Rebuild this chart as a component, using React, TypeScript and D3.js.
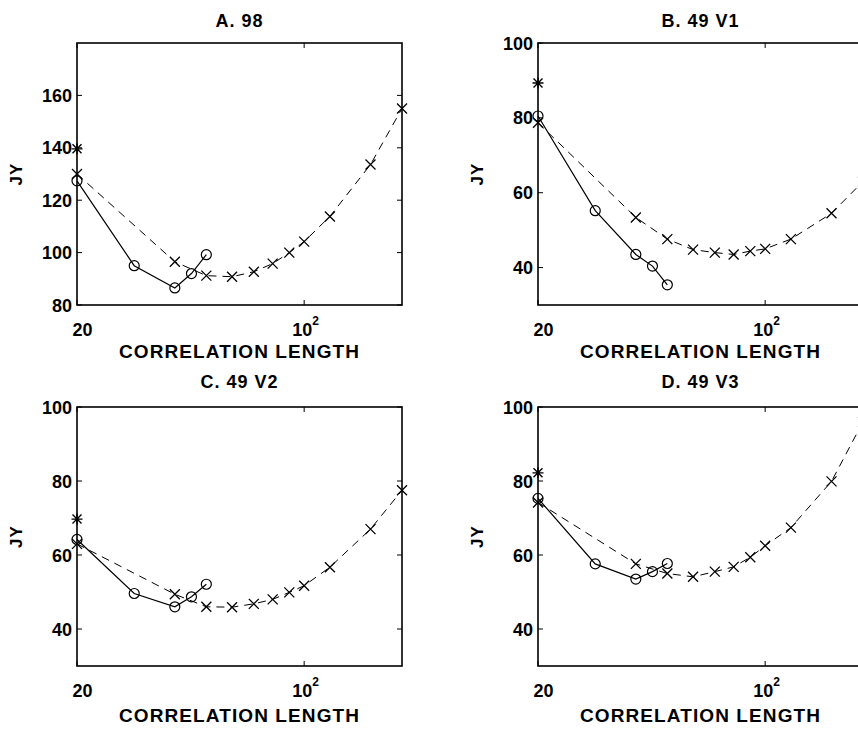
import React, { useRef, useEffect } from 'react';
import * as d3 from 'd3';

// correlation lengths where each series was sampled
const crossLengths = [20, 40, 50, 60, 70, 80, 90, 100, 120, 160, 200];
const circleLengths = [20, 30, 40, 45, 50];

// A. 98
const crossA = [130, 96.5, 91.2, 90.8, 92.7, 95.8, 100, 104.2, 113.8, 133.6, 155];
const circleA = [127.4, 95, 86.5, 92, 99.2];
const starA = 139.6;

// B. 49 V1
const crossB = [78.7, 53.4, 47.6, 44.8, 44.0, 43.5, 44.4, 45.0, 47.6, 54.5, 63];
const circleB = [80.5, 55.2, 43.5, 40.4, 35.4];
const starB = 89.3;

// C. 49 V2
const crossC = [63, 49.4, 46.0, 45.9, 46.8, 48.0, 49.9, 51.7, 56.7, 67.0, 77.5];
const circleC = [64.2, 49.6, 46.0, 48.7, 52.1];
const starC = 69.7;

// D. 49 V3
const crossD = [74.2, 57.6, 55.0, 54.1, 55.5, 56.8, 59.4, 62.5, 67.4, 79.9, 96];
const circleD = [75.3, 57.6, 53.5, 55.5, 57.7];
const starD = 82.2;

const titles = ["A. 98", "B. 49 V1", "C. 49 V2", "D. 49 V3"];
const yTicksA = [80, 100, 120, 140, 160];
const yTicksOther = [40, 60, 80, 100];

const panels = [
  { title: titles[0], cross: crossA, circle: circleA, star: starA, yDomain: [80, 180], yTicks: yTicksA },
  { title: titles[1], cross: crossB, circle: circleB, star: starB, yDomain: [30, 100], yTicks: yTicksOther },
  { title: titles[2], cross: crossC, circle: circleC, star: starC, yDomain: [30, 100], yTicks: yTicksOther },
  { title: titles[3], cross: crossD, circle: circleD, star: starD, yDomain: [30, 100], yTicks: yTicksOther },
];

// where each panel's axes box sits on the page
const layout = [
  { left: 77, top: 43, bottom: 305, titleY: 27, labelY: 358 },
  { left: 538, top: 43, bottom: 305, titleY: 27, labelY: 358 },
  { left: 77, top: 407, bottom: 666, titleY: 388, labelY: 722 },
  { left: 538, top: 407, bottom: 666, titleY: 388, labelY: 722 },
];
const boxWidth = 325;
const font = "'Liberation Sans', Arial, Helvetica, sans-serif";

const App = () => {
  const svgRef = useRef(null);

  useEffect(() => {
    const svg = d3.select(svgRef.current);
    svg.selectAll("*").remove();

    panels.forEach((p, i) => {
      const L = layout[i];
      const x = d3.scaleLog().domain([20, 200]).range([L.left, L.left + boxWidth]);
      const y = d3.scaleLinear().domain(p.yDomain).range([L.bottom, L.top]);
      const g = svg.append("g");

      // axes box
      g.append("rect")
        .attr("x", L.left).attr("y", L.top)
        .attr("width", boxWidth).attr("height", L.bottom - L.top)
        .attr("fill", "none").attr("stroke", "#000").attr("stroke-width", 1.6);

      // y ticks (inside, both sides) + labels
      p.yTicks.forEach(t => {
        const yy = y(t);
        g.append("line").attr("x1", L.left).attr("x2", L.left + 5).attr("y1", yy).attr("y2", yy)
          .attr("stroke", "#000").attr("stroke-width", 1);
        g.append("line").attr("x1", L.left + boxWidth - 5).attr("x2", L.left + boxWidth).attr("y1", yy).attr("y2", yy)
          .attr("stroke", "#000").attr("stroke-width", 1);
        g.append("text")
          .attr("x", L.left - 5).attr("y", yy + 6.5)
          .attr("text-anchor", "end")
          .style("font-family", font).style("font-size", "18px").style("font-weight", "bold")
          .text(t);
      });

      // x ticks at 20 and 10^2
      [20, 100].forEach(t => {
        const xx = x(t);
        g.append("line").attr("x1", xx).attr("x2", xx).attr("y1", L.bottom).attr("y2", L.bottom - 5)
          .attr("stroke", "#000").attr("stroke-width", 1);
        g.append("line").attr("x1", xx).attr("x2", xx).attr("y1", L.top).attr("y2", L.top + 5)
          .attr("stroke", "#000").attr("stroke-width", 1);
      });
      g.append("text")
        .attr("x", x(20) + 5.5).attr("y", L.bottom + 31)
        .attr("text-anchor", "middle")
        .style("font-family", font).style("font-size", "18px").style("font-weight", "bold")
        .text("20");
      const sup = g.append("text")
        .attr("x", x(100) - 12).attr("y", L.bottom + 31)
        .style("font-family", font).style("font-size", "18px").style("font-weight", "bold");
      sup.append("tspan").text("10");
      sup.append("tspan").attr("dy", -11).style("font-size", "12px").text("2");

      // titles / labels
      g.append("text")
        .attr("x", L.left + boxWidth / 2).attr("y", L.titleY)
        .attr("text-anchor", "middle")
        .style("font-family", font).style("font-size", "18px").style("font-weight", "bold")
        .style("letter-spacing", "1px")
        .text(p.title);
      g.append("text")
        .attr("x", L.left + boxWidth / 2).attr("y", L.labelY)
        .attr("text-anchor", "middle")
        .style("font-family", font).style("font-size", "19px").style("font-weight", "bold")
        .style("letter-spacing", "1.1px")
        .text("CORRELATION LENGTH");
      g.append("text")
        .attr("transform", `translate(${L.left - 55},${(L.top + L.bottom) / 2}) rotate(-90)`)
        .attr("text-anchor", "middle")
        .style("font-family", font).style("font-size", "17px").style("font-weight", "bold")
        .style("letter-spacing", "1px")
        .text("JY");

      // dashed series with x markers
      const crossPts = crossLengths.map((c, k) => [x(c), y(p.cross[k])]);
      g.append("path")
        .attr("d", d3.line()(crossPts))
        .attr("fill", "none").attr("stroke", "#000").attr("stroke-width", 1)
        .attr("stroke-dasharray", "8,6");
      crossPts.forEach(([cx, cy]) => {
        g.append("path")
          .attr("d", `M${cx - 5},${cy - 5}L${cx + 5},${cy + 5}M${cx - 5},${cy + 5}L${cx + 5},${cy - 5}`)
          .attr("stroke", "#000").attr("stroke-width", 1.3);
      });

      // solid series with circles
      const circlePts = circleLengths.map((c, k) => [x(c), y(p.circle[k])]);
      g.append("path")
        .attr("d", d3.line()(circlePts))
        .attr("fill", "none").attr("stroke", "#000").attr("stroke-width", 1.2);
      circlePts.forEach(([cx, cy]) => {
        g.append("circle").attr("cx", cx).attr("cy", cy).attr("r", 5)
          .attr("fill", "none").attr("stroke", "#000").attr("stroke-width", 1.2);
      });

      // single star marker
      const sx = x(20), sy = y(p.star);
      g.append("path")
        .attr("d", `M${sx - 4.5},${sy - 4.5}L${sx + 4.5},${sy + 4.5}M${sx - 4.5},${sy + 4.5}L${sx + 4.5},${sy - 4.5}M${sx},${sy - 5.5}L${sx},${sy + 5.5}M${sx - 5.5},${sy}L${sx + 5.5},${sy}`)
        .attr("stroke", "#000").attr("stroke-width", 1.4);
    });
  }, []);

  return (
    <svg ref={svgRef} width={858} height={729}
      style={{ position: 'absolute', left: 0, top: 0, background: '#fff' }} />
  );
};

export default App;
